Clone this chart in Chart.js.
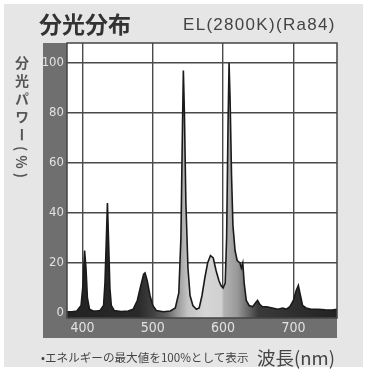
<!DOCTYPE html>
<html><head><meta charset="utf-8">
<script src="https://cdn.jsdelivr.net/npm/chart.js@4/dist/chart.umd.min.js"></script>
<style>
html,body{margin:0;padding:0;background:#fff;width:368px;height:371px;overflow:hidden;}
#panel{position:absolute;left:4px;top:4px;width:359px;height:363px;background:#e6e6e6;}
#c{position:absolute;left:0;top:0;}
.t{position:absolute;white-space:nowrap;font-family:"Noto Sans CJK JP","Noto Sans",sans-serif;}
#title{left:39px;top:8px;font-size:23px;font-weight:bold;color:#333;line-height:30px;}
#sub{left:183px;top:13px;font-size:17px;color:#444;line-height:24px;font-family:"Liberation Sans",sans-serif;letter-spacing:1.3px;}
#ylab{left:13px;top:56px;writing-mode:vertical-rl;font-size:14px;color:#555;line-height:18px;letter-spacing:4px;font-weight:bold;}
#foot{left:41px;top:350px;font-size:11.6px;color:#444;line-height:14px;}
#xlab{left:257px;top:345px;font-size:18.5px;color:#444;line-height:24px;}
</style></head><body>
<div id="panel"></div>
<canvas id="c" width="368" height="371"></canvas>
<div class="t" id="title">分光分布</div>
<div class="t" id="sub">EL(2800K)(Ra84)</div>
<div class="t" id="ylab">分光パワー(%)</div>
<div class="t" id="foot">•エネルギーの最大値を100%として表示</div>
<div class="t" id="xlab">波長(nm)</div>
<script>
// ---- data ----
const wavelengths = [378,385,392,398,401,403,405,407,410,415,420,425,430,432,434,435.5,437,439,441,445,455,465,472,478,483,487,489,492,496,500,505,515,525,532,537,540,542,543.5,545,547,550,553,557,562,566,570,574,578,582,586,590,594,597,600,603,605,607,608.5,610,612,614,617,620,624,626,628,630,633,637,642,646,649,652,656,662,670,678,685,690,695,700,704,707,710,713,718,725,735,745,755,762];
const power = [0.5,0.5,0.8,3,12,25,18,6,1.5,0.8,0.8,1,3,12,30,44,30,10,3,1,0.6,0.8,1.5,5,11,15.5,16,13,7,3,1,0.5,0.8,2,8,30,70,97,80,45,18,7,3,1.5,2,7,14,20,23,22,17,13,11,10,12,30,75,100,85,55,35,25,21,20,18,20,12,5,3,2.5,4,5,3.5,2.5,2.5,2,1.5,2,1.5,2.5,5,9,11,7,3,2,1.5,1.5,1.3,1.2,1.5];
const xTicks = [400,500,600,700];
const yTicks = [0,20,40,60,80,100];

// ---- style ----
const X_MIN = 378, X_MAX = 762, Y_MIN = -2, Y_MAX = 108;
const gradStops = [[380,'#222'],[480,'#2a2a2a'],[500,'#404040'],[520,'#626262'],[535,'#999'],[550,'#c4c4c4'],[575,'#d6d6d6'],[598,'#d0d0d0'],[601,'#b2b2b2'],[620,'#9a9a9a'],[635,'#6a6a6a'],[650,'#3a3a3a'],[762,'#222']];
const tickFont = {family:"'DejaVu Sans Condensed','Liberation Sans Narrow','Noto Sans',sans-serif", size:13};

const framePlugin = {
  id:'frame',
  beforeDraw(chart){
    const {ctx, chartArea:a} = chart;
    ctx.save();
    ctx.fillStyle = '#6f6f6f';
    ctx.fillRect(43, a.top, a.left-43, 338-a.top);
    ctx.fillRect(43, a.bottom, a.right-43, 338-a.bottom);
    ctx.fillStyle = '#fff';
    ctx.fillRect(a.left, a.top, a.right-a.left, a.bottom-a.top);
    ctx.restore();
  },
  afterDatasetsDraw(chart){
    const {ctx, chartArea:a} = chart;
    ctx.save();
    ctx.strokeStyle = '#444';
    ctx.lineWidth = 1.5;
    ctx.strokeRect(a.left, a.top, a.right-a.left, a.bottom-a.top);
    ctx.restore();
  }
};

function fillGradient(context){
  const chart = context.chart;
  const a = chart.chartArea;
  if(!a) return '#333';
  const xs = chart.scales.x;
  const x0 = xs.getPixelForValue(X_MIN), x1 = xs.getPixelForValue(X_MAX);
  const g = chart.ctx.createLinearGradient(x0,0,x1,0);
  gradStops.forEach(([nm,c])=>g.addColorStop(Math.min(1,Math.max(0,(nm-X_MIN)/(X_MAX-X_MIN))), c));
  return g;
}

new Chart(document.getElementById('c'), {
  type:'line',
  data:{
    datasets:[{
      data: wavelengths.map((w,i)=>({x:w,y:power[i]})),
      borderColor:'#1a1a1a',
      borderWidth:1.6,
      pointRadius:0,
      tension:0,
      fill:'start',
      backgroundColor: fillGradient
    }]
  },
  options:{
    responsive:false,
    animation:false,
    events:[],
    layout:{padding:{left:43,right:31,top:43,bottom:33}},
    plugins:{legend:{display:false},tooltip:{enabled:false}},
    scales:{
      x:{
        type:'linear', min:X_MIN, max:X_MAX,
        afterBuildTicks(s){ s.ticks = xTicks.map(v=>({value:v})); },
        afterFit(s){ s.height = 20; },
        grid:{color:'#4a4a4a', lineWidth:1.4, drawTicks:false},
        border:{display:false},
        ticks:{color:'#e2e2e2', font:{...tickFont,size:14}, padding:2, maxRotation:0}
      },
      y:{
        min:Y_MIN, max:Y_MAX,
        afterBuildTicks(s){ s.ticks = yTicks.map(v=>({value:v})); },
        afterFit(s){ s.width = 24; },
        grid:{color:'#4a4a4a', lineWidth:1.4, drawTicks:false},
        border:{display:false},
        ticks:{color:'#e2e2e2', font:tickFont, padding:3}
      }
    }
  },
  plugins:[framePlugin]
});
</script>
</body></html>
